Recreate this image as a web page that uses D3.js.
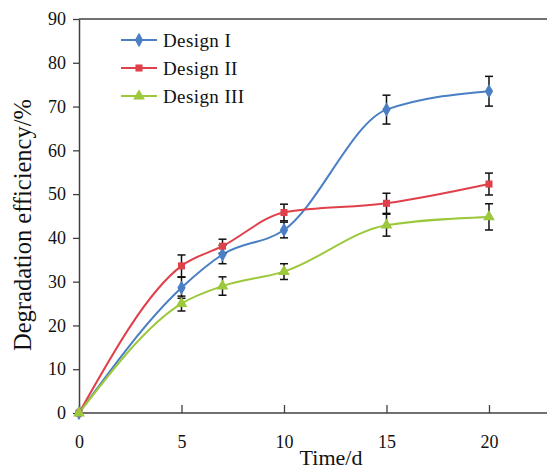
<!DOCTYPE html>
<html>
<head>
    <meta charset="utf-8">
    <script src="https://cdn.jsdelivr.net/npm/d3@7"></script>
    <style>
        body { margin: 0; background: #fff; }
        svg text { font-family: "Liberation Serif", "Times New Roman", serif !important; fill: #111; }
    </style>
</head>
<body>
    <svg width="547" height="469" id="mainsvg"></svg>
    <script>
        // data
        const days = [0, 5, 7, 10, 15, 20];
        const seriesNames = ['Design I', 'Design II', 'Design III'];
        const design1 = [0, 28.6, 36.2, 41.8, 69.3, 73.5];
        const design2 = [0, 33.6, 38.1, 45.8, 47.9, 52.3];
        const design3 = [0, 25.0, 29.0, 32.3, 42.9, 44.8];
        const err1 = [0, 2.4, 2.1, 1.8, 3.3, 3.4];
        const err2 = [0, 2.5, 1.6, 1.9, 2.3, 2.5];
        const err3 = [0, 1.7, 2.1, 1.8, 2.5, 3.0];
        const xTicks = [0, 5, 10, 15, 20];
        const yTicks = [0, 10, 20, 30, 40, 50, 60, 70, 80, 90];

        const colors = ['#4a7fc4', '#e0404a', '#9cc83c'];
        const shapes = [d3.symbolDiamond, d3.symbolSquare, d3.symbolTriangle];
        const sizes = [60, 50, 60];

        const svg = d3.select('svg');
        const pLeft = 79, pRight = 547, pTop = 19, pBottom = 413;

        const x = d3.scaleLinear().domain([0, 22.83]).range([pLeft, pRight]);
        const y = d3.scaleLinear().domain([0, 90]).range([pBottom, pTop]);

        // frame: top line + axes
        svg.append('line').attr('x1', pLeft).attr('x2', pRight).attr('y1', pTop).attr('y2', pTop)
            .attr('stroke', '#404040').attr('stroke-width', 1.5);

        const yAxis = svg.append('g').attr('transform', `translate(${pLeft},0)`)
            .call(d3.axisLeft(y).tickValues(yTicks).tickSize(6).tickPadding(9).tickSizeOuter(0));
        const xAxis = svg.append('g').attr('transform', `translate(0,${pBottom})`)
            .call(d3.axisBottom(x).tickValues(xTicks).tickSize(-8).tickPadding(22).tickSizeOuter(0));
        [xAxis, yAxis].forEach(a => {
            a.attr('font-family', null).attr('font-size', null);
            a.select('.domain').attr('stroke', '#404040').attr('stroke-width', 1.5);
            a.selectAll('.tick line').attr('stroke', '#404040').attr('stroke-width', 1.3);
            a.selectAll('.tick text').style('font-size', '18px').attr('fill', '#111');
        });
        xAxis.select('.domain').attr('d', `M${pLeft},0H${pRight}`);
        yAxis.selectAll('.tick text').attr('dx', 2);

        // axis titles
        svg.append('text').attr('x', 331).attr('y', 465).attr('text-anchor', 'middle')
            .style('font-size', '22px').text('Time/d');
        svg.append('text').attr('transform', 'translate(31,225) rotate(-90)').attr('text-anchor', 'middle')
            .style('font-size', '24.5px').text('Degradation efficiency/%');

        const series = [design1, design2, design3].map((vals, i) => ({
            name: seriesNames[i],
            color: colors[i],
            pts: days.map((d, j) => ({ x: d, y: vals[j], e: [err1, err2, err3][i][j] }))
        }));

        const line = d3.line().x(d => x(d.x)).y(d => y(d.y)).curve(d3.curveMonotoneX);

        svg.selectAll('.series').data(series).join('path')
            .attr('d', d => line(d.pts)).attr('fill', 'none')
            .attr('stroke', d => d.color).attr('stroke-width', 2);

        // error bars
        const errG = svg.append('g').attr('stroke', '#111').attr('stroke-width', 1.5);
        series.forEach(s => {
            s.pts.filter(p => p.e > 0).forEach(p => {
                const cx = x(p.x);
                errG.append('line').attr('x1', cx).attr('x2', cx).attr('y1', y(p.y - p.e)).attr('y2', y(p.y + p.e));
                errG.append('line').attr('x1', cx - 4).attr('x2', cx + 4).attr('y1', y(p.y - p.e)).attr('y2', y(p.y - p.e));
                errG.append('line').attr('x1', cx - 4).attr('x2', cx + 4).attr('y1', y(p.y + p.e)).attr('y2', y(p.y + p.e));
            });
        });

        // markers
        series.forEach((s, i) => {
            svg.append('g').selectAll('path').data(s.pts).join('path')
                .attr('transform', d => `translate(${x(d.x)},${y(d.y)})`)
                .attr('d', d3.symbol().type(shapes[i]).size(sizes[i]))
                .attr('fill', s.color);
        });

        // legend
        const legend = svg.append('g');
        const legendY = [40, 68, 96];
        series.forEach((s, i) => {
            legend.append('line').attr('x1', 121).attr('x2', 157).attr('y1', legendY[i]).attr('y2', legendY[i])
                .attr('stroke', s.color).attr('stroke-width', 2);
            legend.append('path').attr('transform', `translate(139,${legendY[i]})`)
                .attr('d', d3.symbol().type(shapes[i]).size(sizes[i])).attr('fill', s.color);
            legend.append('text').attr('x', 163).attr('y', legendY[i] + 6.5)
                .style('font-size', '19px').attr('letter-spacing', 0.4).text(s.name);
        });
    </script>
</body>
</html>
